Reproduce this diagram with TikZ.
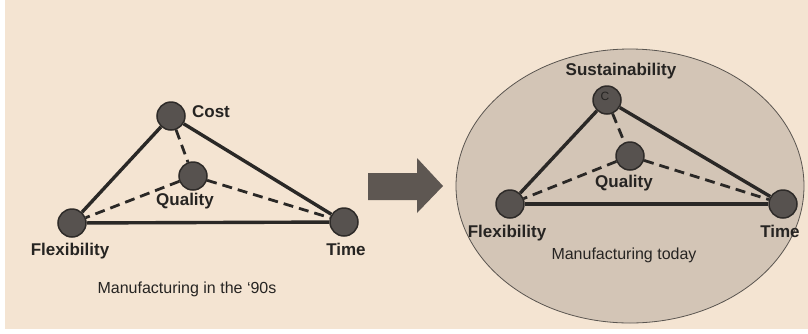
\documentclass[tikz,border=0pt]{standalone}
\usepackage{fontspec}
\setmainfont{Liberation Sans}
\definecolor{paper}{HTML}{F4E4D2}
\definecolor{hull}{HTML}{D3C5B6}
\definecolor{hulledge}{HTML}{5A5550}
\definecolor{nodefill}{HTML}{57524F}
\definecolor{nodeedge}{HTML}{2E2B29}
\definecolor{linecol}{HTML}{2A2826}
\definecolor{textcol}{HTML}{262422}
\definecolor{arrowcol}{HTML}{5E5752}
\pgfdeclarelayer{bg}
\pgfdeclarelayer{links}
\pgfsetlayers{bg,links,main}
\begin{document}
\begin{tikzpicture}[x=1pt,y=-1pt,
  vertex/.style={circle, draw=nodeedge, fill=nodefill, line width=1.5pt, minimum size=28pt, inner sep=0pt},
  tie/.style={line width=3.4pt, draw=linecol},
  softtie/.style={line width=2.8pt, draw=linecol, dash pattern=on 10pt off 6pt},
  lbl/.style={font=\fontsize{17}{20}\selectfont\bfseries, text=textcol, inner sep=0pt, anchor=base},
  caption/.style={font=\fontsize{16}{18}\selectfont, text=textcol, inner sep=0pt, anchor=base}]
\useasboundingbox (0,0) rectangle (808,333);

\begin{pgfonlayer}{bg}
  % page and backdrop
  \fill[white] (0,0) rectangle (808,333);
  \fill[paper] (5,0) rectangle (808,329);
  % transition arrow
  \fill[arrowcol] (368,173) -- (417,173) -- (417,158) -- (443,186) -- (417,213) -- (417,200) -- (368,200) -- cycle;
  % enclosing ellipse of today's triangle
  \filldraw[fill=hull, draw=hulledge, line width=0.8pt] (630,186) ellipse [x radius=174, y radius=137];
\end{pgfonlayer}

% --- manufacturing in the '90s ---
\node[vertex] (cost) at (171,116) {};
\node[vertex] (qual) at (193,176) {};
\node[vertex] (flex) at (72,223) {};
\node[vertex] (time) at (344,222) {};

\node[lbl] (costL) at (211,117) {Cost};
\node[lbl] (qualL) at (185,205) {Quality};
\node[lbl] (flexL) at (70,255) {Flexibility};
\node[lbl] (timeL) at (346,255) {Time};
\node[caption] (capA) at (187,293) {Manufacturing in the ‘90s};

\begin{pgfonlayer}{links}
  \draw[tie] (cost) -- (flex);
  \draw[tie] (cost) -- (time);
  \draw[tie] (flex) -- (time);
  \draw[softtie] (cost) -- (qual);
  \draw[softtie] (qual) -- (flex);
  \draw[softtie] (qual) -- (time);
\end{pgfonlayer}

% --- manufacturing today ---
\node[vertex] (sus) at (607,100) {};
\node[vertex] (qualB) at (630,156) {};
\node[vertex] (flexB) at (510,204) {};
\node[vertex] (timeB) at (783,204) {};

\node[font=\fontsize{12}{13}\selectfont, text=textcol, inner sep=0pt] (susC) at (605,96) {C};
\node[lbl] (susL) at (621,75) {Sustainability};
\node[lbl] (qualBL) at (624,187) {Quality};
\node[lbl] (flexBL) at (507,237) {Flexibility};
\node[lbl] (timeBL) at (780,237) {Time};
\node[caption] (capB) at (624,259.5) {Manufacturing today};

\begin{pgfonlayer}{links}
  \draw[tie] (sus) -- (flexB);
  \draw[tie] (sus) -- (timeB);
  \draw[tie] (flexB) -- (timeB);
  \draw[softtie] (sus) -- (qualB);
  \draw[softtie] (qualB) -- (flexB);
  \draw[softtie] (qualB) -- (timeB);
\end{pgfonlayer}
\end{tikzpicture}
\end{document}
